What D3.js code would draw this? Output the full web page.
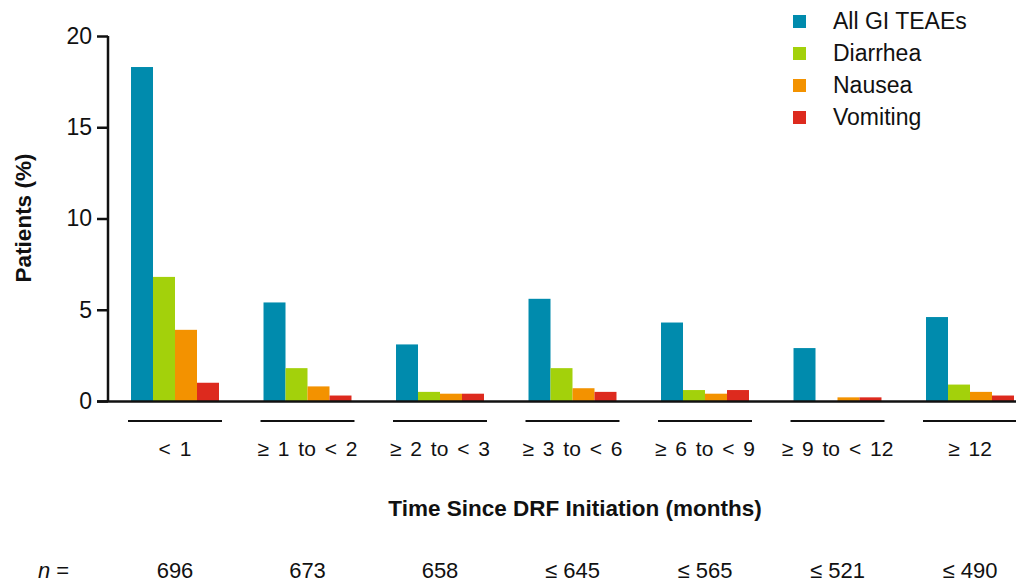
<!DOCTYPE html>
<html>
<head>
<script src="https://d3js.org/d3.v7.min.js"></script>
<style>
  body { margin: 0; background: #fff; }
  svg { display: block; font-family: "Liberation Sans", Arial, sans-serif; }
</style>
</head>
<body>
<div id="chart"></div>
<script>
// chart data
var categories = ['< 1', '≥ 1 to < 2', '≥ 2 to < 3', '≥ 3 to < 6', '≥ 6 to < 9', '≥ 9 to < 12', '≥ 12'];
var nLabels = ['696', '673', '658', '≤ 645', '≤ 565', '≤ 521', '≤ 490'];
var seriesNames = ['All GI TEAEs', 'Diarrhea', 'Nausea', 'Vomiting'];
var allGI    = [18.3, 5.4, 3.1, 5.6, 4.3, 2.9, 4.6];
var diarrhea = [6.8, 1.8, 0.5, 1.8, 0.6, 0, 0.9];
var nausea   = [3.9, 0.8, 0.4, 0.7, 0.4, 0.2, 0.5];
var vomiting = [1.0, 0.3, 0.4, 0.5, 0.6, 0.2, 0.3];
var yTicks = [0, 5, 10, 15, 20];

var seriesValues = [allGI, diarrhea, nausea, vomiting];
var colors = ['#008bad', '#a3d10b', '#f39200', '#dd2a1e'];

var width = 1016, height = 579;
var svg = d3.select('#chart').append('svg')
    .attr('width', width)
    .attr('height', height);

// scales
var y = d3.scaleLinear().domain([0, 20]).range([401, 36]);

var x = d3.scaleBand()
    .domain(categories)
    .range([108.75, 108.75 + 7 * 132.5])
    .paddingInner(0.336)
    .paddingOuter(0.168);

var xs = d3.scaleBand()
    .domain(seriesNames)
    .range([0, x.bandwidth()]);

// bars
var groups = svg.selectAll('g.grp')
    .data(categories)
    .enter().append('g')
    .attr('class', 'grp')
    .attr('transform', function(d){ return 'translate(' + x(d) + ',0)'; });

groups.selectAll('rect')
    .data(function(d, i){
        return seriesNames.map(function(s, j){ return {s: s, v: seriesValues[j][i], c: colors[j]}; });
    })
    .enter().append('rect')
    .attr('x', function(d){ return xs(d.s); })
    .attr('width', xs.bandwidth())
    .attr('y', function(d){ return y(d.v); })
    .attr('height', function(d){ return y(0) - y(d.v); })
    .style('fill', function(d){ return d.c; });

// y axis
var yAxis = svg.append('g')
    .attr('transform', 'translate(108,0)')
    .call(d3.axisLeft(y).tickValues(yTicks).tickSize(11).tickPadding(5));
yAxis.select('.domain').attr('stroke', '#111').attr('stroke-width', 2.5).attr('d', 'M0,36V402');
yAxis.selectAll('.tick line').attr('stroke', '#111').attr('stroke-width', 2.5);
yAxis.selectAll('.tick text').style('font-size', '23px').attr('fill', '#111');

// baseline
svg.append('line')
    .attr('x1', 97).attr('x2', width)
    .attr('y1', y(0) + 0.5).attr('y2', y(0) + 0.5)
    .attr('stroke', '#111').attr('stroke-width', 2.5);

// category underlines
svg.selectAll('line.under')
    .data(categories)
    .enter().append('line')
    .attr('class', 'under')
    .attr('x1', function(d){ return x(d) - 3; })
    .attr('x2', function(d){ return x(d) + x.bandwidth() + 3; })
    .attr('y1', 421).attr('y2', 421)
    .attr('stroke', '#111').attr('stroke-width', 2);

// category labels
svg.selectAll('text.cat')
    .data(categories)
    .enter().append('text')
    .attr('class', 'cat')
    .attr('x', function(d){ return x(d) + x.bandwidth() / 2; })
    .attr('y', 456)
    .attr('text-anchor', 'middle')
    .style('font-size', '21px')
    .style('word-spacing', '3px')
    .attr('fill', '#111')
    .text(function(d){ return d; });

// n row
svg.selectAll('text.n')
    .data(nLabels)
    .enter().append('text')
    .attr('class', 'n')
    .attr('x', function(d, i){ return x(categories[i]) + x.bandwidth() / 2; })
    .attr('y', 578)
    .attr('text-anchor', 'middle')
    .style('font-size', '22px')
    .attr('fill', '#111')
    .text(function(d){ return d; });

svg.append('text')
    .attr('x', 38).attr('y', 578)
    .style('font-size', '22px')
    .attr('fill', '#111')
    .html('<tspan font-style="italic">n</tspan> =');

// axis titles
svg.append('text')
    .attr('x', 575).attr('y', 516)
    .attr('text-anchor', 'middle')
    .style('font-size', '22.5px')
    .style('font-weight', 'bold')
    .attr('fill', '#111')
    .text('Time Since DRF Initiation (months)');

svg.append('text')
    .attr('transform', 'translate(31,218) rotate(-90)')
    .attr('text-anchor', 'middle')
    .style('font-size', '22.5px')
    .style('font-weight', 'bold')
    .attr('fill', '#111')
    .text('Patients (%)');

// legend
var legend = svg.selectAll('g.leg')
    .data(seriesNames)
    .enter().append('g')
    .attr('class', 'leg')
    .attr('transform', function(d, i){ return 'translate(793,' + (15 + i * 32) + ')'; });

legend.append('rect')
    .attr('width', 13).attr('height', 13)
    .style('fill', function(d, i){ return colors[i]; });

legend.append('text')
    .attr('x', 40).attr('y', 14)
    .style('font-size', '23px')
    .attr('fill', '#111')
    .text(function(d){ return d; });
</script>
</body>
</html>
